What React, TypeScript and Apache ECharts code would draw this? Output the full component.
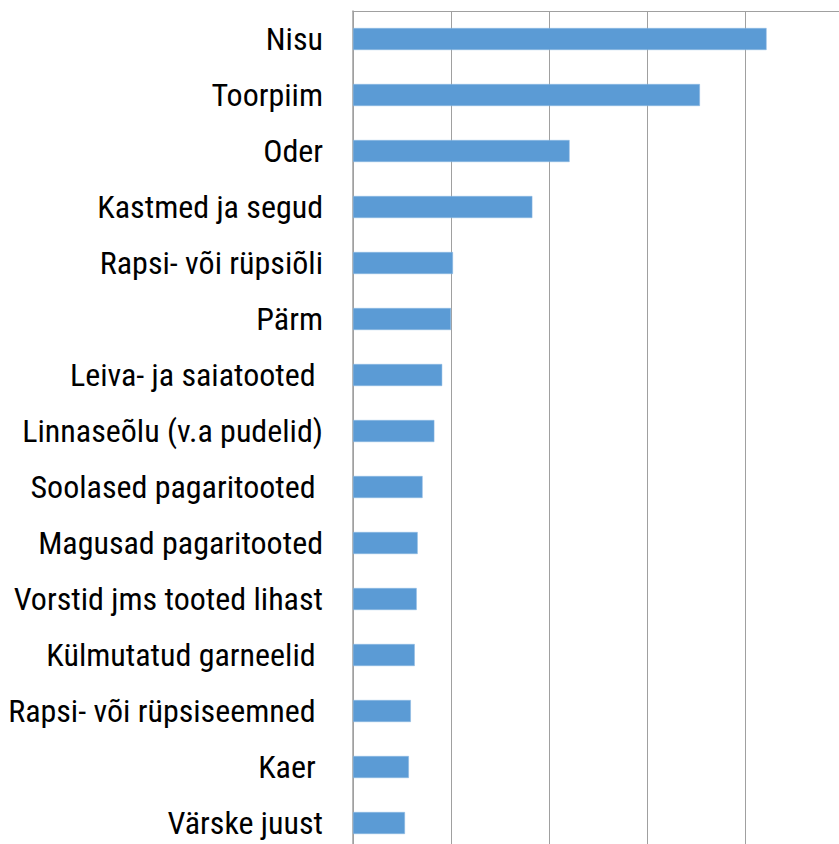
import React, { useEffect, useRef } from "react";
import * as echarts from "echarts";

const categories = [
  "Nisu",
  "Toorpiim",
  "Oder",
  "Kastmed ja segud",
  "Rapsi- või rüpsiõli",
  "Pärm",
  "Leiva- ja saiatooted ",
  "Linnaseõlu (v.a pudelid)",
  "Soolased pagaritooted ",
  "Magusad pagaritooted",
  "Vorstid jms tooted lihast",
  "Külmutatud garneelid ",
  "Rapsi- või rüpsiseemned ",
  "Kaer ",
  "Värske juust",
];

const values = [4.22, 3.54, 2.21, 1.83, 1.02, 1.0, 0.91, 0.83, 0.71, 0.66, 0.65, 0.63, 0.59, 0.57, 0.53];

const axisMin = 0;
const axisMax = 5;
const axisInterval = 1;

export default function App() {
  const ref = useRef<HTMLDivElement>(null);
  useEffect(() => {
    if (!ref.current) return;
    const chart = echarts.init(ref.current, undefined, { renderer: "svg" });
    chart.setOption({
      animation: false,
      backgroundColor: "#ffffff",
      grid: { left: 353, top: 11, width: 490, height: 840, containLabel: false },
      xAxis: {
        type: "value",
        position: "top",
        min: axisMin,
        max: axisMax,
        interval: axisInterval,
        axisLine: { show: true, lineStyle: { color: "#A0A0A0", width: 1 } },
        axisTick: { show: false },
        axisLabel: { show: false },
        splitLine: { show: true, lineStyle: { color: "#A0A0A0", width: 1 } },
      },
      yAxis: {
        type: "category",
        data: categories,
        inverse: true,
        axisLine: { show: true, lineStyle: { color: "#A0A0A0", width: 1.5 } },
        axisTick: { show: false },
        axisLabel: {
          color: "#000000",
          fontSize: 32,
          fontFamily: "'Roboto Condensed', 'Liberation Sans Narrow', 'DejaVu Sans Condensed', Roboto, sans-serif",
          margin: 30,
        },
        splitLine: { show: false },
      },
      series: [
        {
          type: "bar",
          data: values,
          barWidth: 22,
          itemStyle: { color: "#5B9BD5", borderColor: "#8DB8E2", borderWidth: 0.5 },
        },
      ],
    });
    return () => chart.dispose();
  }, []);
  return (
    <div style={{ position: "absolute", left: 0, top: 0, width: 839, height: 844, overflow: "hidden", background: "#fff" }}>
      <div ref={ref} style={{ width: 900, height: 860 }} />
    </div>
  );
}
